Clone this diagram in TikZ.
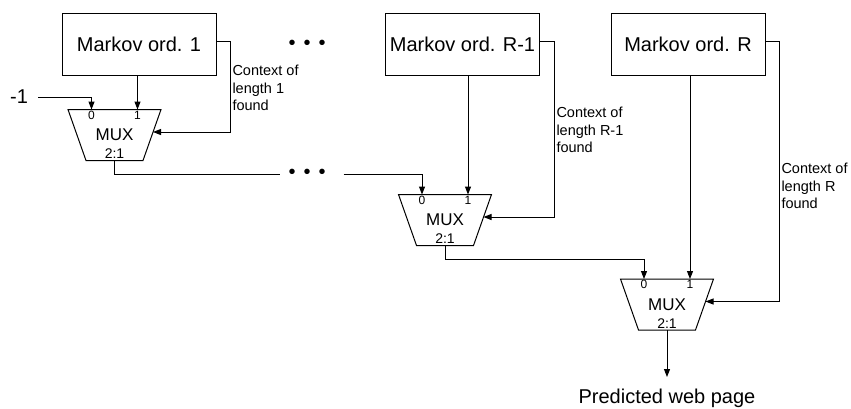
\documentclass[tikz,border=0pt]{standalone}
\usepackage{fontspec}
\setmainfont{Liberation Sans}
\usetikzlibrary{arrows.meta, positioning}

\begin{document}
\begin{tikzpicture}[x=1pt, y=-1pt, line width=1pt,
          blk/.style={draw, minimum width=154pt, minimum height=62pt,
                      font=\fontsize{20}{24}\selectfont},
          mux/.style={minimum width=92pt, minimum height=50pt,
                      inner sep=0pt, font=\fontsize{17}{20}\selectfont,
                      label={[anchor=south, inner sep=1.5pt, font=\fontsize{14}{16}\selectfont]south:{2:1}}},
          port/.style={inner sep=1pt, font=\fontsize{12}{13}\selectfont},
          ctx/.style={align=left, inner sep=1pt, font=\fontsize{14.5}{17.5}\selectfont},
          big/.style={font=\fontsize{20}{24}\selectfont},
          dots/.style={inner sep=0pt, font=\fontsize{20}{24}\selectfont},
          >={Triangle[length=8pt, width=6pt]}]
        \useasboundingbox (0,0) rectangle (851,408);
        % Markov predictors
        \node[blk] (b1) at (139,44)   {Markov ord. 1};
        \node[blk] (b2) at (462.5,44) {Markov ord. R-1};
        \node[blk] (b3) at (688,44)   {Markov ord. R};
        \node[dots] (dt) at (307,45)  {•\hspace{8pt}•\hspace{8pt}•};
        % multiplexers
        \node[mux] (m1) at (114.5,135) {MUX};
        \node[mux] (m2) at (445,220)   {MUX};
        \node[mux] (m3) at (667,304.5) {MUX};
        \foreach \m in {m1,m2,m3} {
          \draw (\m.north west) -- (\m.north east) -- ([xshift=-18pt]\m.south east)
                -- ([xshift=18pt]\m.south west) -- cycle;
          \coordinate (\m-0) at ([xshift=-23pt]\m.north);
          \coordinate (\m-1) at ([xshift=23pt]\m.north);
          \coordinate (\m-s) at ([xshift=-8pt, yshift=3pt]\m.east);
          \node[port, below] at (\m-0) {0};
          \node[port, below] at (\m-1) {1};
        }
        \node[big, inner sep=0pt] (in) at (19,97) {-1};
        \node[dots] (dl) at (307,174) {•\hspace{8pt}•\hspace{8pt}•};
        \node[big, anchor=base, inner sep=2pt] (out) at (667,403) {Predicted web page};
        % context found signals
        \coordinate (k1) at (230,0);
        \coordinate (k2) at (554,0);
        \coordinate (k3) at (779,0);
        \draw[->] ([yshift=3pt]b1.east) -| (k1 |- m1-s) -- (m1-s);
        \draw[->] ([yshift=3pt]b2.east) -| (k2 |- m2-s) -- (m2-s);
        \draw[->] ([yshift=3pt]b3.east) -| (k3 |- m3-s) -- (m3-s);
        \node[ctx, anchor=west] (c1) at (231,88)  {Context of\\length 1\\found};
        \node[ctx, anchor=west] (c2) at (555,130) {Context of\\length R-1\\found};
        \node[ctx, anchor=west] (c3) at (780,186) {Context of\\length R\\found};
        % data paths
        \draw[->] (m1-1 |- b1.south) -- (m1-1);
        \draw[->] (m2-1 |- b2.south) -- (m2-1);
        \draw[->] (m3-1 |- b3.south) -- (m3-1);
        \draw[->] ([xshift=10pt]in.east) -| (m1-0);
        \draw[shorten >=8.5pt] (m1.south) |- (dl.west);
        \draw[->, shorten <=17.5pt] (dl.east) -| (m2-0);
        \draw[->] (m2.south) -- ++(0,14) -| (m3-0);
        \draw[->, shorten >=9pt] (m3.south) -- (out.north);
      \end{tikzpicture}
\end{document}
